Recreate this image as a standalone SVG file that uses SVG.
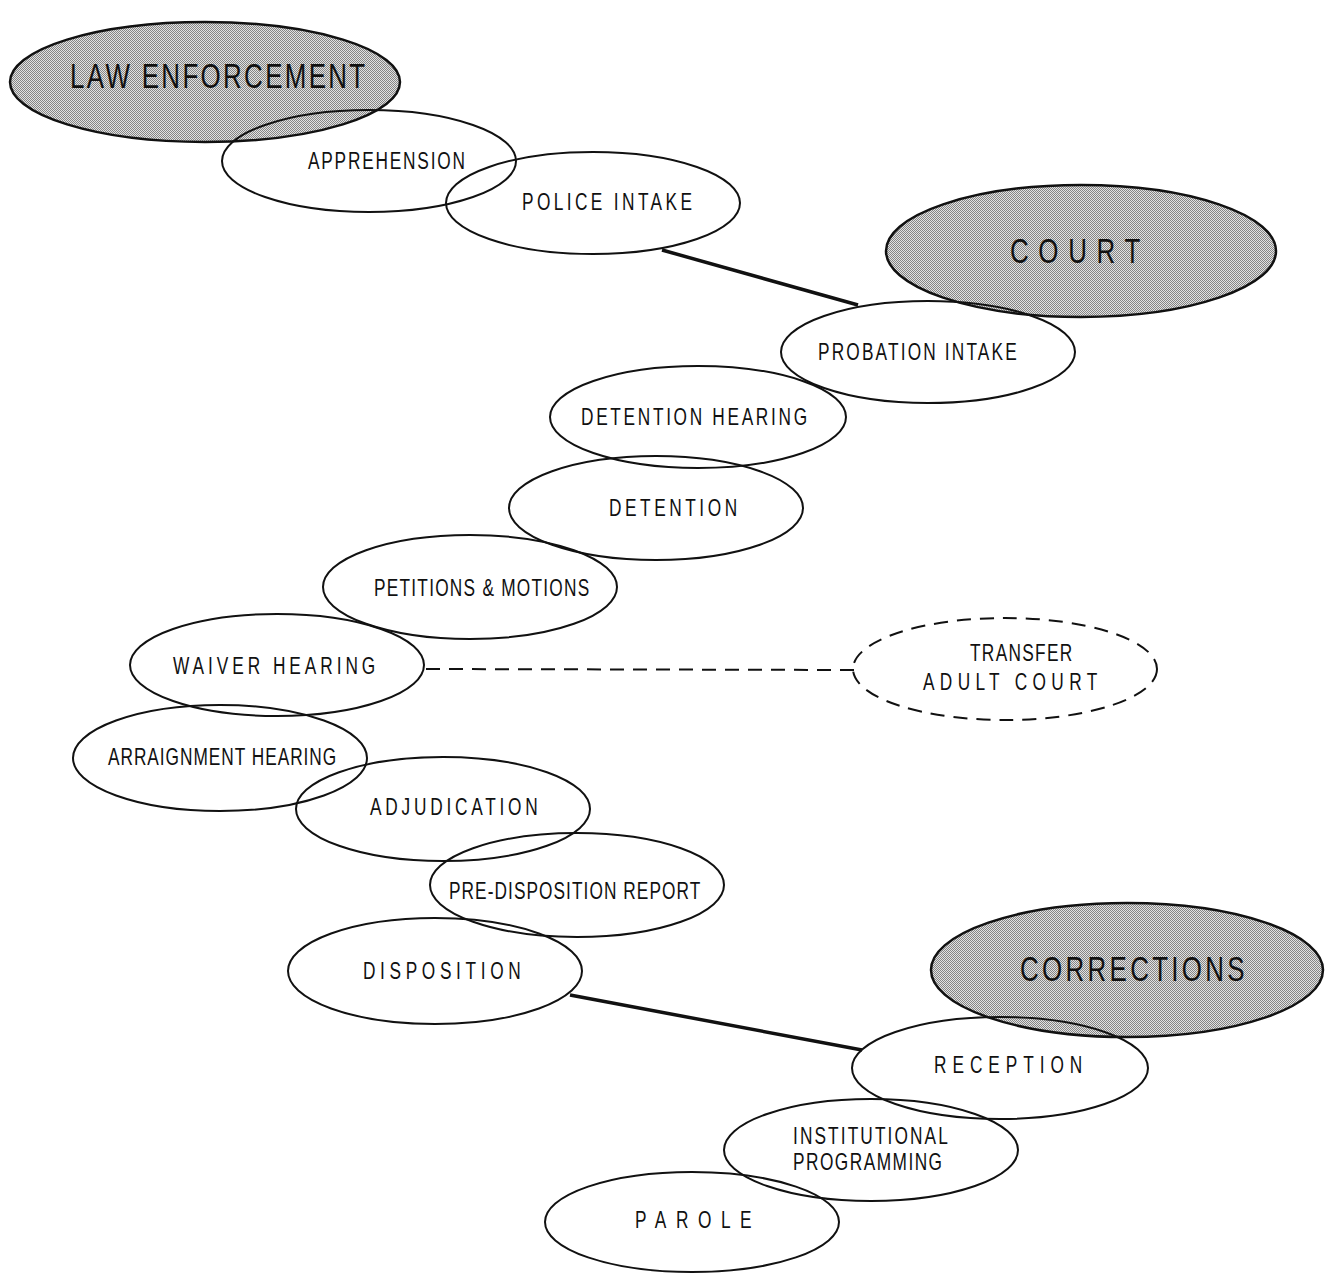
<svg xmlns="http://www.w3.org/2000/svg" width="1329" height="1277" viewBox="0 0 1329 1277">
<defs>
<pattern id="dither" width="2" height="2" patternUnits="userSpaceOnUse">
<rect width="2" height="2" fill="#e2e2e2"/>
<rect width="1" height="1" fill="#858585"/>
<rect x="1" y="1" width="1" height="1" fill="#858585"/>
</pattern>
<style>
.sh{fill:url(#dither);stroke:#111;stroke-width:2.5}
.el{fill:none;stroke:#111;stroke-width:2}
.dash{fill:none;stroke:#111;stroke-width:2;stroke-dasharray:14 9}
.t{font-family:"Liberation Sans","Arial",sans-serif;font-size:24px;fill:#111}
.big{font-size:36px}
.con{stroke:#111;stroke-width:3.5;fill:none}
</style>
</defs>
<rect width="1329" height="1277" fill="#fff"/>
<g id="connectors">
<line class="con" x1="662" y1="250" x2="858" y2="305"/>
<line class="con" x1="570" y1="995" x2="862" y2="1050"/>
<line class="dash" x1="426" y1="669" x2="856" y2="670"/>
</g>
<g id="law-enforcement"><ellipse class="sh" cx="205" cy="82" rx="195" ry="60"/><text class="t big" transform="matrix(0.72 0 0 1 70 88)" textLength="410" lengthAdjust="spacing">LAW ENFORCEMENT</text></g>
<g id="court"><ellipse class="sh" cx="1081" cy="251" rx="195" ry="66"/><text class="t big" transform="matrix(0.72 0 0 1 1010 263)" textLength="181" lengthAdjust="spacing">COURT</text></g>
<g id="corrections"><ellipse class="sh" cx="1127" cy="970" rx="196" ry="67"/><text class="t big" transform="matrix(0.72 0 0 1 1020 981)" textLength="312" lengthAdjust="spacing">CORRECTIONS</text></g>
<g id="apprehension"><ellipse class="el" cx="369" cy="161" rx="147" ry="51"/><text class="t" transform="matrix(0.72 0 0 1 308 169)" textLength="218" lengthAdjust="spacing">APPREHENSION</text></g>
<g id="police-intake"><ellipse class="el" cx="593" cy="203" rx="147" ry="51"/><text class="t" transform="matrix(0.72 0 0 1 522 210)" textLength="236" lengthAdjust="spacing">POLICE INTAKE</text></g>
<g id="probation-intake"><ellipse class="el" cx="928" cy="352" rx="147" ry="51"/><text class="t" transform="matrix(0.72 0 0 1 818 360)" textLength="276" lengthAdjust="spacing">PROBATION INTAKE</text></g>
<g id="detention-hearing"><ellipse class="el" cx="698" cy="417" rx="148" ry="51"/><text class="t" transform="matrix(0.72 0 0 1 581 425)" textLength="314" lengthAdjust="spacing">DETENTION HEARING</text></g>
<g id="detention"><ellipse class="el" cx="656" cy="508" rx="147" ry="52"/><text class="t" transform="matrix(0.72 0 0 1 609 516)" textLength="178" lengthAdjust="spacing">DETENTION</text></g>
<g id="petitions-motions"><ellipse class="el" cx="470" cy="587" rx="147" ry="52"/><text class="t" transform="matrix(0.72 0 0 1 374 596)" textLength="299" lengthAdjust="spacing">PETITIONS &amp; MOTIONS</text></g>
<g id="waiver-hearing"><ellipse class="el" cx="277" cy="665" rx="147" ry="51"/><text class="t" transform="matrix(0.72 0 0 1 173 674)" textLength="281" lengthAdjust="spacing">WAIVER HEARING</text></g>
<g id="transfer-adult-court"><ellipse class="dash" cx="1005" cy="669" rx="152" ry="51"/><text class="t" transform="matrix(0.72 0 0 1 970 661)" textLength="142" lengthAdjust="spacing">TRANSFER</text><text class="t" transform="matrix(0.72 0 0 1 923 690)" textLength="242" lengthAdjust="spacing">ADULT COURT</text></g>
<g id="arraignment-hearing"><ellipse class="el" cx="220" cy="758" rx="147" ry="53"/><text class="t" transform="matrix(0.72 0 0 1 108 765)" textLength="317" lengthAdjust="spacing">ARRAIGNMENT HEARING</text></g>
<g id="adjudication"><ellipse class="el" cx="443" cy="809" rx="147" ry="52"/><text class="t" transform="matrix(0.72 0 0 1 370 815)" textLength="233" lengthAdjust="spacing">ADJUDICATION</text></g>
<g id="pre-disposition-report"><ellipse class="el" cx="577" cy="885" rx="147" ry="52"/><text class="t" transform="matrix(0.72 0 0 1 449 899)" textLength="349" lengthAdjust="spacing">PRE-DISPOSITION REPORT</text></g>
<g id="disposition"><ellipse class="el" cx="435" cy="971" rx="147" ry="53"/><text class="t" transform="matrix(0.72 0 0 1 363 979)" textLength="219" lengthAdjust="spacing">DISPOSITION</text></g>
<g id="reception"><ellipse class="el" cx="1000" cy="1068" rx="148" ry="51"/><text class="t" transform="matrix(0.72 0 0 1 934 1073)" textLength="206" lengthAdjust="spacing">RECEPTION</text></g>
<g id="institutional-programming"><ellipse class="el" cx="871" cy="1150" rx="147" ry="51"/><text class="t" transform="matrix(0.72 0 0 1 793 1144)" textLength="215" lengthAdjust="spacing">INSTITUTIONAL</text><text class="t" transform="matrix(0.72 0 0 1 793 1170)" textLength="207" lengthAdjust="spacing">PROGRAMMING</text></g>
<g id="parole"><ellipse class="el" cx="692" cy="1222" rx="147" ry="50"/><text class="t" transform="matrix(0.72 0 0 1 635 1228)" textLength="162" lengthAdjust="spacing">PAROLE</text></g>
</svg>
